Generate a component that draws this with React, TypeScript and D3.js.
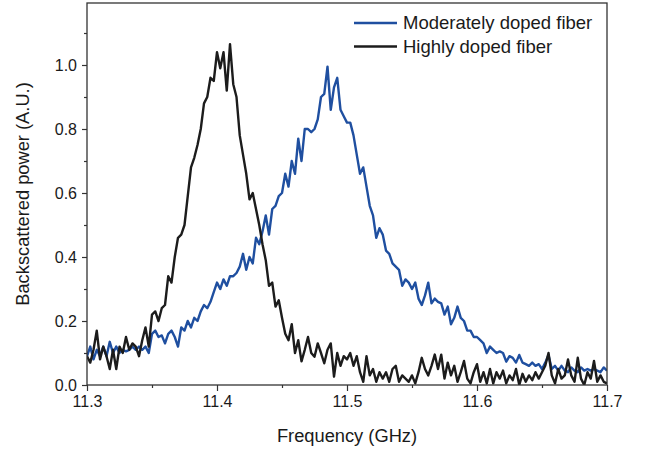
import React, { useEffect, useRef } from "react";
import * as d3 from "d3";

const FREQ_START = 11.3;
const FREQ_STEP = 0.0025;

const moderatelyDoped: number[] = [
  0.09, 0.12, 0.08, 0.11, 0.09, 0.12, 0.09, 0.135, 0.10, 0.12,
  0.10, 0.11, 0.105, 0.11, 0.12, 0.11, 0.12, 0.11, 0.12, 0.10,
  0.16, 0.17, 0.15, 0.155, 0.13, 0.16, 0.17, 0.15, 0.12, 0.18,
  0.17, 0.20, 0.18, 0.21, 0.20, 0.23, 0.25, 0.24, 0.26, 0.29,
  0.32, 0.30, 0.33, 0.31, 0.34, 0.34, 0.35, 0.37, 0.41, 0.36,
  0.40, 0.38, 0.46, 0.44, 0.48, 0.53, 0.47, 0.55, 0.56, 0.59,
  0.60, 0.66, 0.62, 0.70, 0.66, 0.77, 0.70, 0.80, 0.80, 0.79,
  0.80, 0.83, 0.90, 0.91, 0.995, 0.86, 0.93, 0.96, 0.86, 0.84,
  0.82, 0.82, 0.78, 0.72, 0.66, 0.68, 0.62, 0.56, 0.53, 0.46,
  0.49, 0.47, 0.42, 0.41, 0.38, 0.37, 0.36, 0.31, 0.33, 0.32,
  0.30, 0.32, 0.27, 0.25, 0.28, 0.32, 0.255, 0.27, 0.26, 0.255,
  0.22, 0.245, 0.19, 0.21, 0.245, 0.21, 0.20, 0.17, 0.17, 0.15,
  0.15, 0.14, 0.13, 0.10, 0.12, 0.11, 0.10, 0.105, 0.10, 0.073,
  0.09, 0.085, 0.07, 0.094, 0.07, 0.065, 0.06, 0.07, 0.06, 0.065,
  0.05, 0.07, 0.094, 0.05, 0.06, 0.045, 0.06, 0.045, 0.04, 0.055,
  0.045, 0.04, 0.055, 0.045, 0.05, 0.045, 0.05, 0.045, 0.04, 0.055,
  0.045,
];

const highlyDoped: number[] = [
  0.09, 0.07, 0.11, 0.17, 0.08, 0.12, 0.09, 0.05, 0.11, 0.05,
  0.12, 0.10, 0.15, 0.11, 0.13, 0.12, 0.09, 0.14, 0.18, 0.12,
  0.22, 0.23, 0.20, 0.24, 0.25, 0.34, 0.32, 0.40, 0.46, 0.47,
  0.50, 0.59, 0.68, 0.71, 0.75, 0.80, 0.88, 0.90, 0.96, 0.95,
  1.04, 0.99, 1.04, 0.92, 1.065, 0.94, 0.90, 0.78, 0.72, 0.66,
  0.58, 0.60, 0.55, 0.50, 0.44, 0.39, 0.31, 0.32, 0.245, 0.265,
  0.21, 0.16, 0.14, 0.19, 0.10, 0.14, 0.074, 0.11, 0.15, 0.10,
  0.088, 0.13, 0.10, 0.068, 0.11, 0.13, 0.026, 0.10, 0.06, 0.09,
  0.08, 0.10, 0.06, 0.09, 0.04, 0.01, 0.09, 0.03, 0.05, 0.01,
  0.04, 0.02, 0.04, 0.01, 0.05, 0.06, 0.01, 0.03, 0.02, 0.01,
  0.03, 0.005, 0.04, 0.085, 0.05, 0.03, 0.06, 0.095, 0.05, 0.095,
  0.02, 0.07, 0.03, 0.06, 0.01, 0.04, 0.075, 0.02, 0.005, 0.04,
  0.065, 0.01, 0.04, 0.005, 0.05, 0.005, 0.04, 0.02, 0.045, 0.005,
  0.03, 0.015, 0.05, 0.0, 0.035, 0.01, 0.03, 0.015, 0.04, 0.02,
  0.04, 0.06, 0.10, 0.03, 0.005, 0.05, 0.02, 0.03, 0.08, 0.03,
  0.01, 0.085, 0.02, 0.0, 0.04, 0.02, 0.075, 0.01, 0.03, 0.01,
  0.005,
];

const seriesNames = ["Moderately doped fiber", "Highly doped fiber"];
const xTickValues = [11.3, 11.4, 11.5, 11.6, 11.7];
const xTickLabels = ["11.3", "11.4", "11.5", "11.6", "11.7"];
const yTickValues = [0, 0.2, 0.4, 0.6, 0.8, 1.0];
const yTickLabels = ["0.0", "0.2", "0.4", "0.6", "0.8", "1.0"];
const xMinorTicks = [11.35, 11.45, 11.55, 11.65];
const yMinorTicks = [0.1, 0.3, 0.5, 0.7, 0.9, 1.1];

const W = 649;
const H = 452;
const M = { left: 87, right: 607, top: 3, bottom: 385 };
const FONT = "'Liberation Sans', Arial, Helvetica, sans-serif";
const BLUE = "#1f4fa0";
const BLACK = "#1c1c1c";
const AXIS = "#333333";

export default function App() {
  const ref = useRef<SVGSVGElement | null>(null);

  useEffect(() => {
    const svg = d3.select(ref.current);
    svg.selectAll("*").remove();

    const x = d3.scaleLinear().domain([11.3, 11.7]).range([M.left, M.right]);
    const y = d3.scaleLinear().domain([0, 1.19375]).range([M.bottom, M.top]);

    const clip = svg.append("defs").append("clipPath").attr("id", "plotclip");
    clip.append("rect")
      .attr("x", M.left).attr("y", M.top)
      .attr("width", M.right - M.left).attr("height", M.bottom - M.top);

    const line = d3.line<number>()
      .x((_, i) => x(FREQ_START + i * FREQ_STEP))
      .y((d) => y(d))
      .curve(d3.curveLinear);

    const g = svg.append("g").attr("clip-path", "url(#plotclip)");
    g.append("path").datum(moderatelyDoped)
      .attr("d", line).attr("fill", "none").attr("stroke", BLUE)
      .attr("stroke-width", 2.4).attr("stroke-linejoin", "round");
    g.append("path").datum(highlyDoped)
      .attr("d", line).attr("fill", "none").attr("stroke", BLACK)
      .attr("stroke-width", 2.4).attr("stroke-linejoin", "round");

    // frame
    svg.append("rect")
      .attr("x", M.left).attr("y", M.top)
      .attr("width", M.right - M.left).attr("height", M.bottom - M.top)
      .attr("fill", "none").attr("stroke", AXIS).attr("stroke-width", 1.3);

    // x axis
    const xAxis = d3.axisBottom(x)
      .tickValues(xTickValues)
      .tickFormat((_, i) => xTickLabels[i])
      .tickSizeInner(6).tickSizeOuter(0).tickPadding(5);
    const xg = svg.append("g").attr("transform", `translate(0,${M.bottom})`).call(xAxis);
    xg.select(".domain").remove();
    xg.selectAll("line").attr("stroke", AXIS).attr("stroke-width", 1.2);
    xg.selectAll("text").attr("font-family", FONT).attr("font-size", 16).attr("fill", "#1a1a1a");
    const xMinor = d3.axisBottom(x).tickValues(xMinorTicks).tickFormat(() => "").tickSizeInner(3).tickSizeOuter(0);
    const xmg = svg.append("g").attr("transform", `translate(0,${M.bottom})`).call(xMinor);
    xmg.select(".domain").remove();
    xmg.selectAll("line").attr("stroke", AXIS).attr("stroke-width", 1.2);

    // y axis
    const yAxis = d3.axisLeft(y)
      .tickValues(yTickValues)
      .tickFormat((_, i) => yTickLabels[i])
      .tickSizeInner(5).tickSizeOuter(0).tickPadding(5);
    const yg = svg.append("g").attr("transform", `translate(${M.left},0)`).call(yAxis);
    yg.select(".domain").remove();
    yg.selectAll("line").attr("stroke", AXIS).attr("stroke-width", 1.2);
    yg.selectAll("text").attr("font-family", FONT).attr("font-size", 16).attr("fill", "#1a1a1a");
    const yMinor = d3.axisLeft(y).tickValues(yMinorTicks).tickFormat(() => "").tickSizeInner(3).tickSizeOuter(0);
    const ymg = svg.append("g").attr("transform", `translate(${M.left},0)`).call(yMinor);
    ymg.select(".domain").remove();
    ymg.selectAll("line").attr("stroke", AXIS).attr("stroke-width", 1.2);

    // axis titles
    svg.append("text")
      .attr("x", (M.left + M.right) / 2).attr("y", 442)
      .attr("text-anchor", "middle")
      .attr("font-family", FONT).attr("font-size", 18.3).attr("fill", "#1a1a1a")
      .text("Frequency (GHz)");
    svg.append("text")
      .attr("transform", `translate(29,${(M.top + M.bottom) / 2}) rotate(-90)`)
      .attr("text-anchor", "middle")
      .attr("font-family", FONT).attr("font-size", 18.3).attr("fill", "#1a1a1a")
      .text("Backscattered power (A.U.)");

    // legend
    const colors = [BLUE, BLACK];
    seriesNames.forEach((name, i) => {
      const ly = 23 + i * 23.5;
      svg.append("line")
        .attr("x1", 354).attr("x2", 397).attr("y1", ly).attr("y2", ly)
        .attr("stroke", colors[i]).attr("stroke-width", 2.4);
      svg.append("text")
        .attr("x", 403).attr("y", ly).attr("dy", "0.35em")
        .attr("font-family", FONT).attr("font-size", 18.5).attr("fill", "#1a1a1a")
        .text(name);
    });
  }, []);

  return (
    <svg
      ref={ref}
      width={W}
      height={H}
      style={{ position: "absolute", left: 0, top: 0, background: "#ffffff" }}
    />
  );
}
